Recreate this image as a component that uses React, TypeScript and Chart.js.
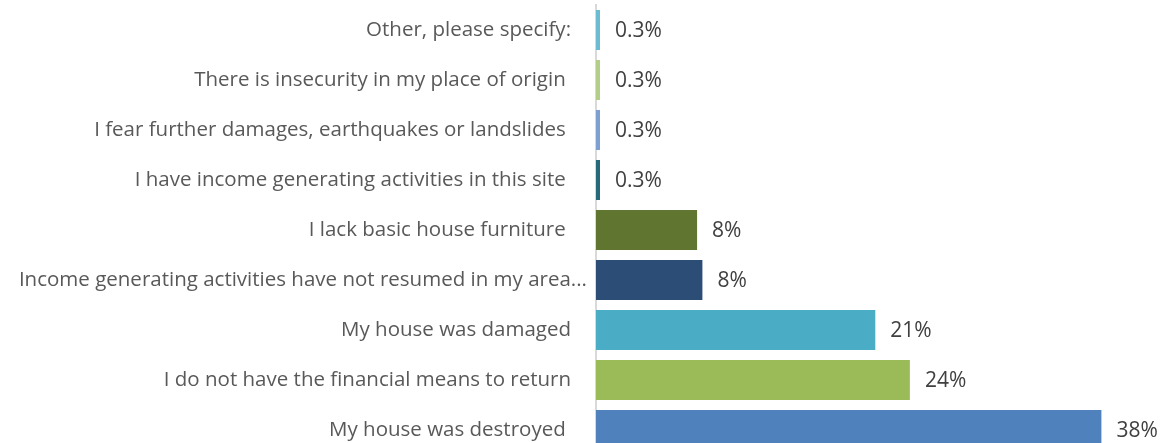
import React, { useEffect, useRef } from "react";
import { Chart, registerables } from "chart.js";

Chart.register(...registerables);

const categories = [
  "Other, please specify:   ",
  "There is insecurity in my place of origin    ",
  "I fear further damages, earthquakes or landslides    ",
  "I have income generating activities in this site    ",
  "I lack basic house furniture    ",
  "Income generating activities have not resumed in my area...",
  "My house was damaged   ",
  "I do not have the financial means to return   ",
  "My house was destroyed    ",
];

const values = [0.3, 0.3, 0.3, 0.3, 7.6, 8.0, 21.0, 23.6, 38.0];

const valueLabels = ["0.3%", "0.3%", "0.3%", "0.3%", "8%", "8%", "21%", "24%", "38%"];

const barColors = [
  "#6BBCD1",
  "#B3CF87",
  "#7D9FD2",
  "#276A7C",
  "#5F7530",
  "#2C4D75",
  "#4BACC6",
  "#9BBB59",
  "#4F81BD",
];

const FONT_FAMILY = "'Open Sans', sans-serif";

const valueLabelPlugin = {
  id: "valueLabels",
  afterDatasetsDraw(chart: any) {
    const ctx = chart.ctx;
    const meta = chart.getDatasetMeta(0);
    ctx.save();
    ctx.font = `21px ${FONT_FAMILY}`;
    ctx.fillStyle = "#404040";
    ctx.textAlign = "left";
    ctx.textBaseline = "middle";
    meta.data.forEach((bar: any, i: number) => {
      ctx.fillText(valueLabels[i], bar.x + 15, bar.y + 1);
    });
    ctx.restore();
  },
};

export default function App() {
  const ref = useRef<HTMLCanvasElement>(null);

  useEffect(() => {
    if (!ref.current) return;
    const chart = new Chart(ref.current, {
      type: "bar",
      data: {
        labels: categories,
        datasets: [
          {
            data: values,
            backgroundColor: barColors,
            borderWidth: 0,
            categoryPercentage: 1,
            barPercentage: 0.8,
          },
        ],
      },
      options: {
        indexAxis: "y",
        responsive: false,
        animation: false,
        layout: { padding: { top: 5, bottom: 5, right: 32, left: 0 } },
        plugins: {
          legend: { display: false },
          tooltip: { enabled: false },
        },
        scales: {
          x: {
            display: false,
            min: 0,
            max: 40,
          },
          y: {
            grid: { display: false, drawTicks: false },
            border: { display: true, color: "#D9D9D9", width: 2 },
            ticks: {
              color: "#595959",
              font: { family: FONT_FAMILY, size: 20.5 },
              padding: 9,
              autoSkip: false,
            },
            afterFit(scale: any) {
              scale.width = 596;
              scale.paddingTop = 0;
              scale.paddingBottom = 0;
            },
          },
        },
      },
      plugins: [valueLabelPlugin],
    });
    return () => chart.destroy();
  }, []);

  return (
    <div style={{ position: "absolute", left: 0, top: 0, width: 1160, height: 460 }}>
      <canvas ref={ref} width={1160} height={460} />
    </div>
  );
}
